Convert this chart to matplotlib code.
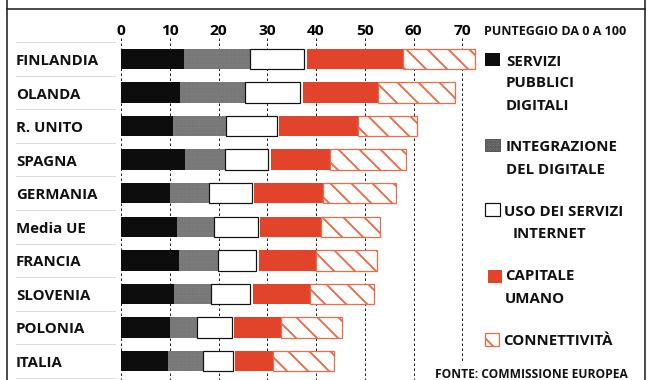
import matplotlib
matplotlib.use("Agg")
import matplotlib.pyplot as plt
import matplotlib.transforms as mtransforms
from matplotlib.patches import Rectangle
from matplotlib.lines import Line2D

# punteggi DESI per dimensione
paesi = ["FINLANDIA", "OLANDA", "R. UNITO", "SPAGNA", "GERMANIA",
         "Media UE", "FRANCIA", "SLOVENIA", "POLONIA", "ITALIA"]
servizi = [12.9, 12.1, 10.7, 13.1, 10.1, 11.4, 11.8, 10.9, 10.1, 9.7]
integrazione = [13.6, 13.4, 10.9, 8.3, 8.0, 7.6, 8.0, 7.6, 5.4, 7.1]
internet = [11.1, 11.3, 10.4, 8.8, 8.7, 9.0, 7.9, 8.0, 7.2, 6.1]
capitale = [19.7, 15.5, 16.2, 12.1, 14.2, 12.6, 11.8, 11.7, 9.6, 7.8]
connettivita = [14.7, 15.6, 12.1, 15.6, 14.8, 12.0, 12.6, 13.2, 12.5, 12.5]
tacche = [0, 10, 20, 30, 40, 50, 60, 70]

ROSSO = "#e2432b"
ARANCIO = "#e66e4b"
GRIGIO = "#858585"
W, H = 653, 380
DPI = 63          # la trama del tratteggio scala con i dpi
K = 72 / DPI      # da pixel a punti

plt.rcParams["font.family"] = ["Open Sans", "DejaVu Sans"]
plt.rcParams["font.weight"] = "bold"
plt.rcParams["hatch.linewidth"] = 1.9 * K

fig = plt.figure(figsize=(W / DPI, H / DPI), dpi=DPI)
fig.patch.set_facecolor("white")

# coordinate in pixel, y verso il basso
px = mtransforms.Affine2D().scale(1 / W, -1 / H).translate(0, 1) + fig.transFigure

y0, y1 = -0.626, 9.567
ax = fig.add_axes([121 / W, 0, 74 * 4.876 / W, (H - 38) / H])
ax.set_xlim(0, 74)
ax.set_ylim(y1, y0)
for s in ax.spines.values():
    s.set_visible(False)
ax.set_yticks([])
ax.xaxis.tick_top()
ax.set_xticks(tacche)
ax.set_xticklabels([str(t) for t in tacche], fontsize=15.5 * K, fontweight="bold")
ax.tick_params(axis="x", length=0, pad=0)

# griglia tratteggiata
for t in tacche:
    fine = 9.06 if t == 70 else y1
    ax.vlines(t, y0, fine, colors="#222222", linewidth=1.0 * K,
              linestyles=(0, (2.5, 2.5)), zorder=0)

alt = 0.61
gap = 0.5
righe = range(len(paesi))
a = servizi
b = [s + i for s, i in zip(servizi, integrazione)]
c = [x + u + gap for x, u in zip(b, internet)]
d = [x + k for x, k in zip(c, capitale)]

ax.barh(righe, servizi, height=alt, color="#0d0d0d", linewidth=0, zorder=2)
ax.barh(righe, integrazione, left=a, height=alt, color=GRIGIO,
        edgecolor="#6e6e6e", hatch="....", linewidth=0, zorder=2)
ax.barh(righe, internet, left=b, height=alt, color="white",
        edgecolor="#111111", linewidth=1.2 * K, zorder=2)
ax.barh(righe, capitale, left=c, height=alt, color=ROSSO, linewidth=0, zorder=2)
ax.barh(righe, connettivita, left=d, height=alt, color="white",
        edgecolor=ARANCIO, hatch="\\", linewidth=1.3 * K, zorder=2)

# nomi dei paesi e separatori
lato = mtransforms.blended_transform_factory(px, ax.transData)
for i, p in enumerate(paesi):
    ax.text(16, i + 0.18, p, transform=lato, fontsize=15 * K, fontweight="bold",
            ha="left", va="baseline", color="#111111")
for i in range(len(paesi) + 1):
    ax.add_line(Line2D([16, 116], [i - 0.5, i - 0.5], transform=lato,
                       color="#b4b4b4", linewidth=0.8 * K, linestyle=(0, (1.5, 1)),
                       clip_on=False))

# legenda
fig.text(484, 35, "PUNTEGGIO DA 0 A 100", transform=px, fontsize=12.5 * K,
         fontweight="bold", ha="left", va="baseline", color="#111111")
voci = [
    ((485, 53, 15, 13), dict(facecolor="#0d0d0d", linewidth=0),
     [(506, 65.5, "SERVIZI"), (506, 87, "PUBBLICI"), (506, 110, "DIGITALI")]),
    ((485, 139, 15, 12), dict(facecolor=GRIGIO, edgecolor="#444444", hatch="....", linewidth=0.8 * K),
     [(506, 151, "INTEGRAZIONE"), (506, 174, "DEL DIGITALE")]),
    ((485, 203, 15, 13), dict(facecolor="white", edgecolor="#111111", linewidth=1.2 * K),
     [(504, 216, "USO DEI SERVIZI"), (513, 237.7, "INTERNET")]),
    ((488, 270, 14, 13), dict(facecolor=ROSSO, linewidth=0),
     [(505, 280, "CAPITALE"), (505, 303, "UMANO")]),
    ((485, 333, 14, 13), dict(facecolor="white", edgecolor=ARANCIO, hatch="\\", linewidth=1.3 * K),
     [(503, 345, "CONNETTIVITÀ")]),
]
for (x, y, w, h), stile, righe_testo in voci:
    fig.add_artist(Rectangle((x, y), w, h, transform=px, **stile))
    for tx, ty, testo in righe_testo:
        fig.text(tx, ty, testo, transform=px, fontsize=15 * K, fontweight="bold",
                 ha="left", va="baseline", color="#111111")

fig.text(435, 378, "FONTE: COMMISSIONE EUROPEA", transform=px, fontsize=12 * K,
         fontweight="bold", ha="left", va="baseline", color="#111111")

# cornice
for xs, ys in [([7, 7], [0, H]), ([645, 645], [0, H]), ([7, 645], [9, 9])]:
    fig.add_artist(Line2D(xs, ys, transform=px, color="#222222", linewidth=1.6 * K))

fig.savefig("out.png", dpi=DPI, facecolor="white")
